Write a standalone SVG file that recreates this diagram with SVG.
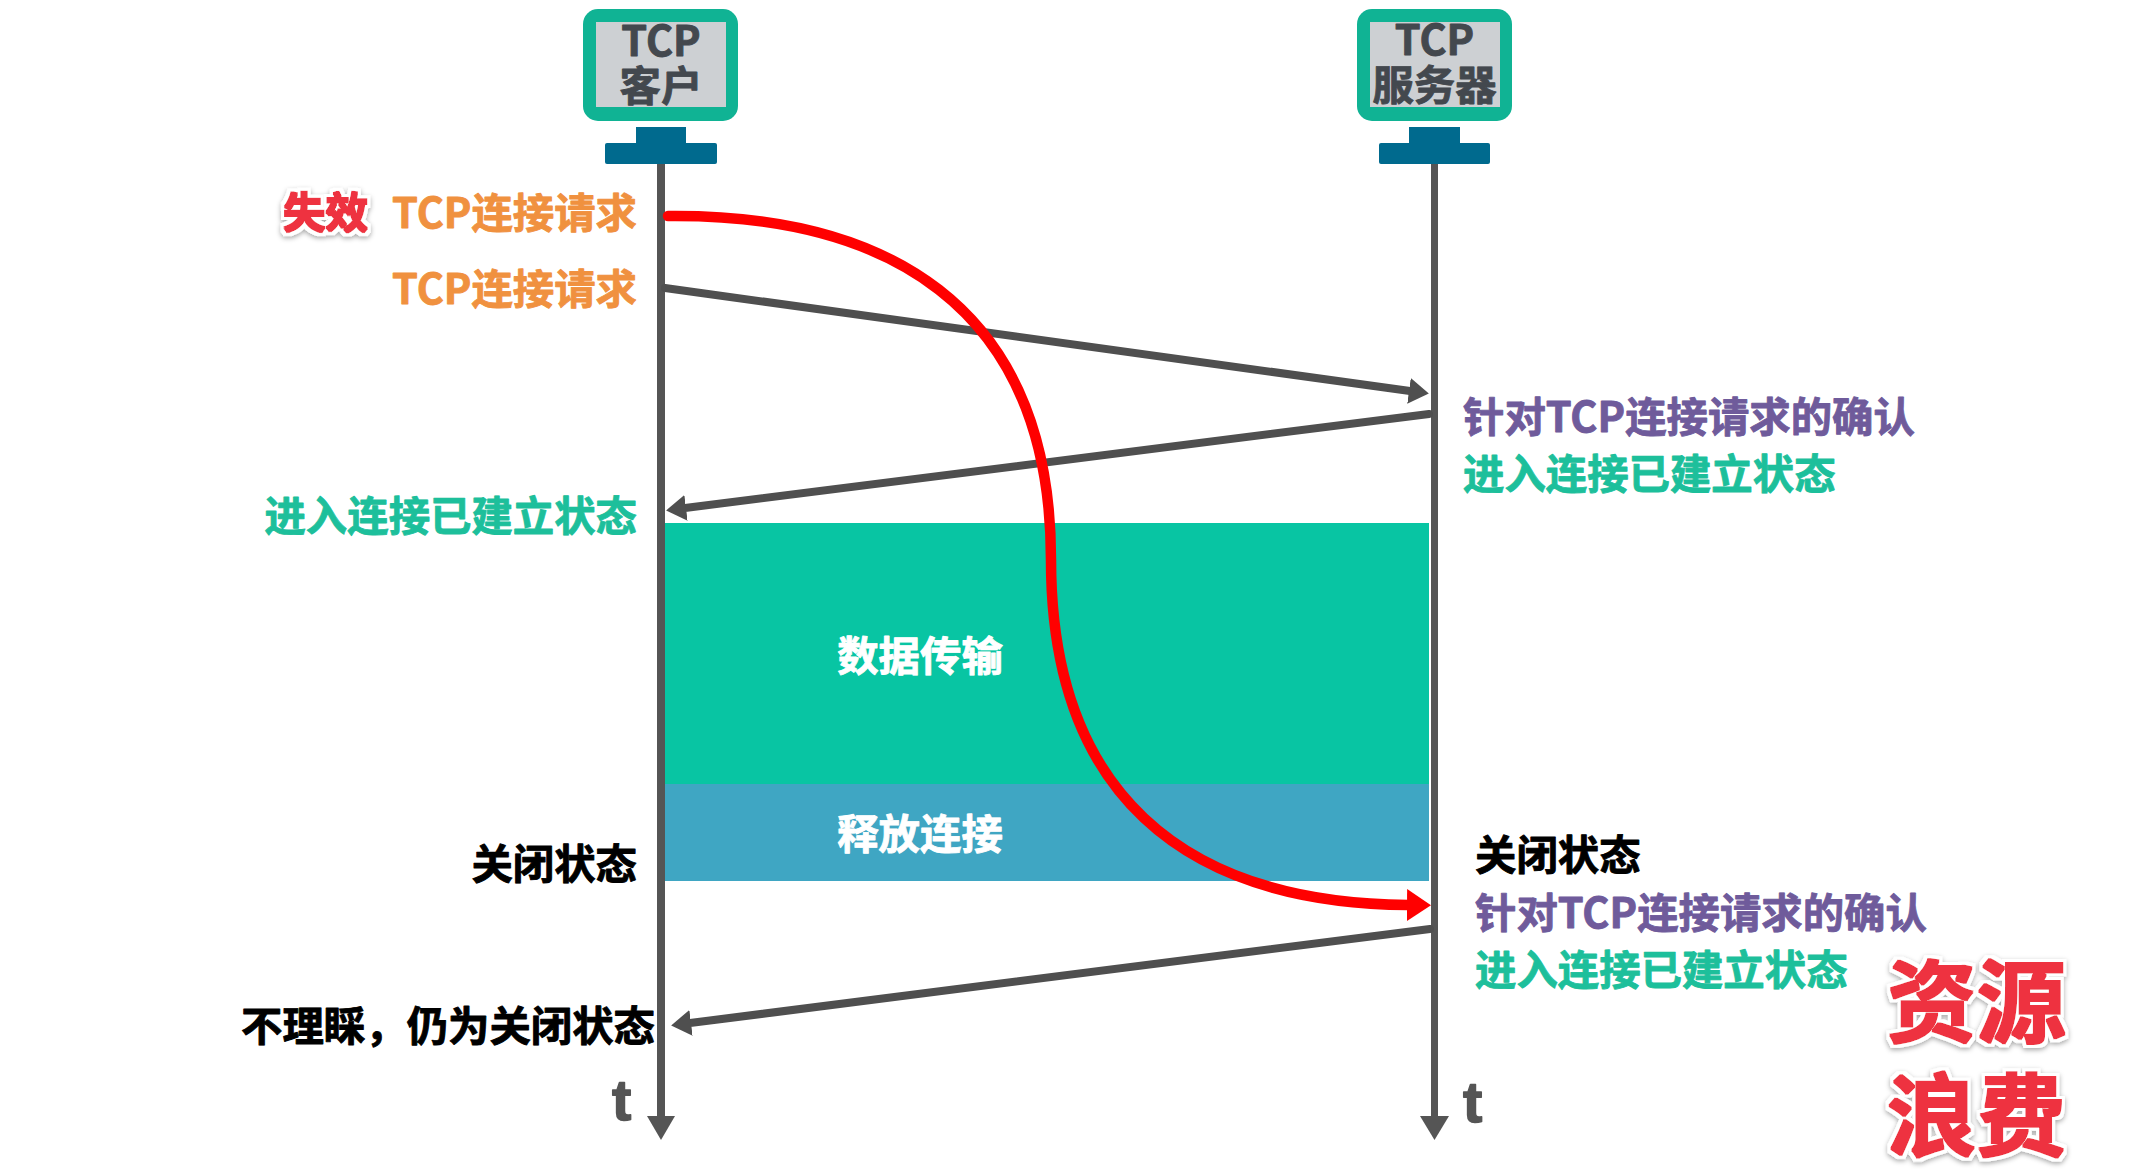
<svg xmlns="http://www.w3.org/2000/svg" width="2138" height="1172" viewBox="0 0 2138 1172">
<style>
text{font-family:"Noto Sans CJK SC","Noto Sans",sans-serif;font-weight:700;font-size:41.400px;stroke-width:.9px;stroke-linejoin:round}
.end{text-anchor:end}.mid{text-anchor:middle}
.o{fill:#f0913f;stroke:#f0913f}.g{fill:#1dbf9b;stroke:#1dbf9b}.p{fill:#6f5b9b;stroke:#6f5b9b}.k{fill:#000;stroke:#000}.w{fill:#fff;stroke:#fff}.m{fill:#43484e;stroke:#43484e}.t{fill:#555;stroke:#555;stroke-width:1.500px;font-family:"Liberation Sans",sans-serif;font-size:58px}
.s{fill:#ee3340;stroke:none;filter:url(#sh)}
.mon{fill:#10b394}.scr{fill:#cdd0d3}.st{fill:#006a8e}
.ax{stroke:#555;fill:none}.ln{stroke:#4f4f4f;stroke-width:8;fill:none}
</style>
<defs>
<filter id="sh" x="-20%" y="-20%" width="140%" height="140%">
<feMorphology in="SourceAlpha" operator="dilate" radius="4" result="halo"/>
<feGaussianBlur in="halo" stdDeviation="2.500" result="hb"/>
<feOffset in="hb" dy="2" result="ho"/>
<feFlood flood-color="#000" flood-opacity="0.35"/><feComposite in2="ho" operator="in" result="shadow"/>
<feFlood flood-color="#fff"/><feComposite in2="halo" operator="in" result="white"/>
<feMorphology in="SourceGraphic" operator="dilate" radius="0.500" result="fat"/>
<feMerge><feMergeNode in="shadow"/><feMergeNode in="white"/><feMergeNode in="fat"/></feMerge>
</filter>
<marker id="ga" markerUnits="userSpaceOnUse" markerWidth="22" markerHeight="28" refX="1" refY="13" orient="auto"><path d="M0 0L20 13L0 26Z" fill="#4f4f4f"/></marker>
<marker id="ra" markerUnits="userSpaceOnUse" markerWidth="26" markerHeight="34" refX="1" refY="16" orient="auto"><path d="M0 0L24 16L0 32Z" fill="#f00"/></marker>
</defs>
<rect width="2138" height="1172" fill="#fff"/>
<g id="band-data"><rect x="665" y="523" width="764" height="261" fill="#08c5a3"/><text class="w mid" x="920" y="671">数据传输</text></g>
<g id="band-release"><rect x="665" y="784" width="764" height="97" fill="#3fa6c3"/><text class="w mid" x="920" y="849">释放连接</text></g>
<g id="client"><rect class="mon" x="583" y="9" width="155" height="112" rx="15"/><rect class="scr" x="596" y="22" width="130" height="85"/><text class="m mid" x="661" y="56">TCP</text><text class="m mid" x="661" y="101">客户</text><rect class="st" x="636" y="127" width="50" height="20"/><rect class="st" x="605" y="143" width="112" height="21" rx="2"/></g>
<g id="server"><rect class="mon" x="1357" y="9" width="155" height="112" rx="15"/><rect class="scr" x="1370" y="22" width="130" height="85"/><text class="m mid" x="1434.500" y="55">TCP</text><text class="m mid" x="1434.500" y="100">服务器</text><rect class="st" x="1409" y="127" width="51" height="20"/><rect class="st" x="1379" y="143" width="111" height="21" rx="2"/></g>
<g id="connectors">
<path class="ax" stroke-width="8" d="M661 164V1118"/><path d="M647 1116H675L661 1140Z" fill="#555"/>
<path class="ax" stroke-width="7" d="M1434.500 164V1118"/><path d="M1420 1116H1449L1434.500 1140Z" fill="#555"/>
<path class="ln" stroke-linecap="round" marker-end="url(#ga)" d="M665 288L1410 391"/>
<path class="ln" stroke-linecap="round" marker-end="url(#ga)" d="M1429 414L685 508"/>
<path class="ln" stroke-linecap="round" marker-end="url(#ga)" d="M1430 929L690 1023"/>
<path fill="none" stroke="#f00" stroke-width="10.500" stroke-linecap="round" marker-end="url(#ra)" d="M668 216C880 214 1051 300 1051 560C1051 790 1180 903 1408 905"/>
</g>
<g id="labels">
<text class="s" x="283" y="228" style="font-size:42.500px">失效</text>
<text class="o end" x="637" y="228">TCP连接请求</text>
<text class="o end" x="637" y="304">TCP连接请求</text>
<text class="g end" x="637" y="531">进入连接已建立状态</text>
<text class="p" x="1463" y="432">针对TCP连接请求的确认</text>
<text class="g" x="1463" y="489">进入连接已建立状态</text>
<text class="k end" x="637" y="879">关闭状态</text>
<text class="k end" x="655" y="1041">不理睬，仍为关闭状态</text>
<text class="t" x="612" y="1120">t</text>
<text class="k" x="1475" y="870">关闭状态</text>
<text class="p" x="1475" y="928">针对TCP连接请求的确认</text>
<text class="g" x="1475" y="985">进入连接已建立状态</text>
<text class="t" x="1463" y="1122">t</text>
<text class="s" x="1887" y="1035" style="font-size:89.500px">资源</text>
<text class="s" x="1887" y="1149" style="font-size:89.500px">浪费</text>
</g>
</svg>
